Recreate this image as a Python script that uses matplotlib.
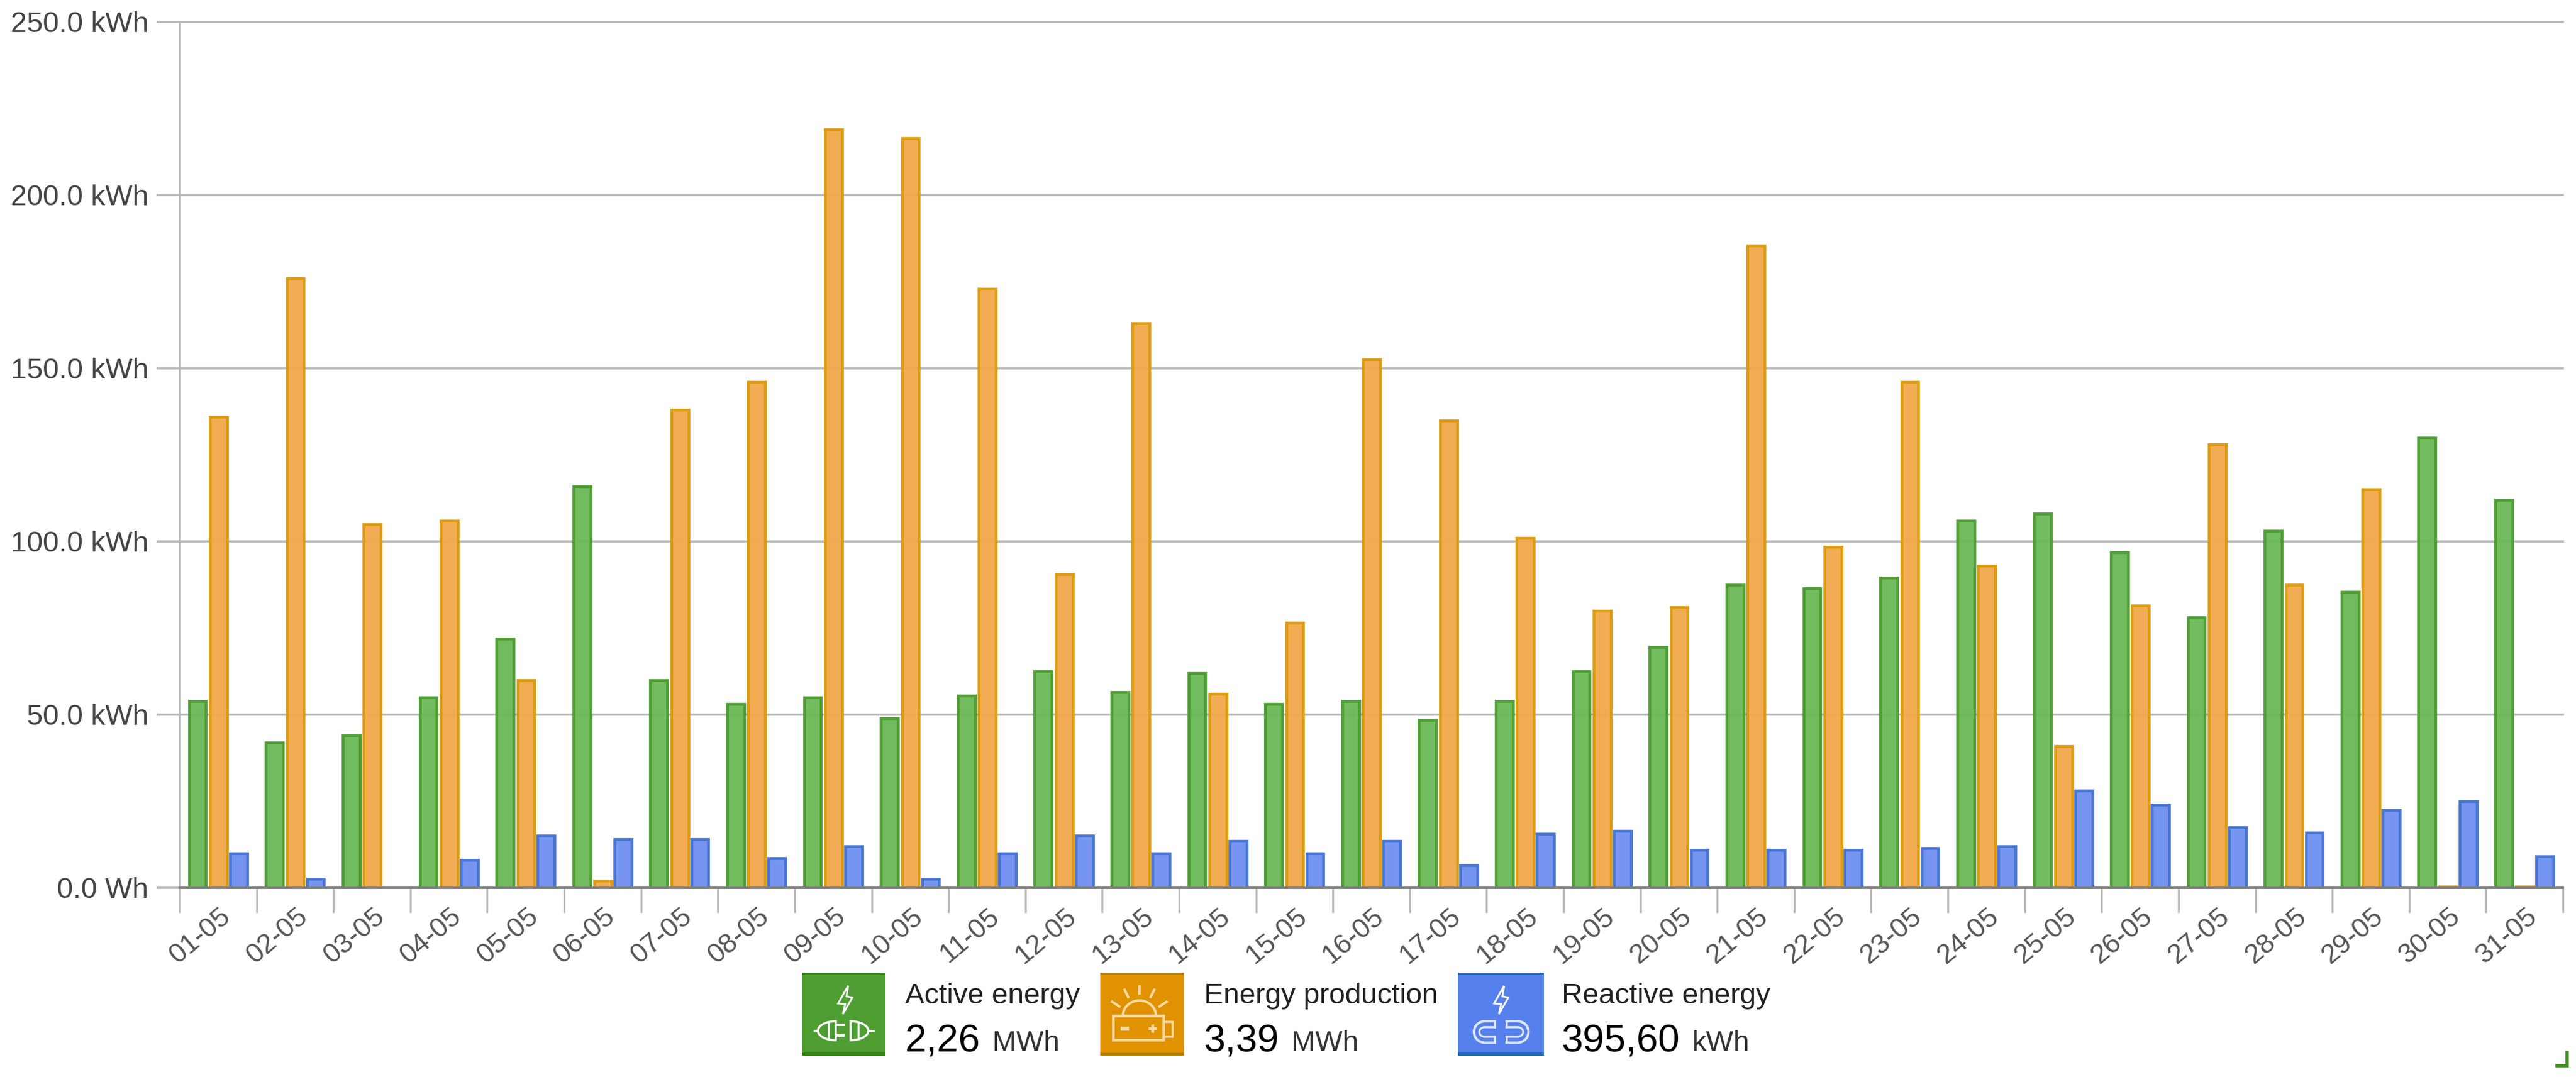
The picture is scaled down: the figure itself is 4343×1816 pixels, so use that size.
import matplotlib
matplotlib.use("Agg")
import matplotlib.pyplot as plt
import numpy as np
from matplotlib.patches import Rectangle, Polygon, Arc

plt.rcParams['font.family'] = ['Liberation Sans', 'DejaVu Sans']

days = [f"{d:02d}-05" for d in range(1, 32)]
active = [54,42,44,55,72,116,60,53,55,49,55.5,62.5,56.5,62,53,54,48.5,54,62.5,69.5,87.5,86.5,89.5,106,108,97,78,103,85.5,130,112]
production = [136,176,105,106,60,2,138,146,219,216.5,173,90.5,163,56,76.5,152.5,135,101,80,81,185.5,98.5,146,93,41,81.5,128,87.5,115,0.3,0.3]
reactive = [10,2.5,0,8,15,14,14,8.5,12,2.5,10,15,10,13.5,10,13.5,6.5,15.5,16.5,11,11,11,11.5,12,28,24,17.5,16,22.5,25,9]
yticks = [0,50,100,150,200,250]
ylabels = ["0.0 Wh","50.0 kWh","100.0 kWh","150.0 kWh","200.0 kWh","250.0 kWh"]
legend_names = ["Active energy","Energy production","Reactive energy"]
legend_vals = ["2,26","3,39","395,60"]
legend_units = ["MWh","MWh","kWh"]

W,H = 4343,1816
fig = plt.figure(figsize=(W/100,H/100),dpi=100,facecolor='white')
ax = fig.add_axes([303/W,(H-1497)/H,4018/W,1460/H])
ax.set_xlim(0,31); ax.set_ylim(0,250)
ax.set_axisbelow(True)
x = np.arange(31)
bw = 0.222
series = [(active,0.232,'#6AB856','#4B9B2F'),(production,0.505,'#F2A94B','#DB9A0D'),(reactive,0.767,'#6F8FF0','#4472D0')]
for vals,off,fc,ec in series:
    ax.bar(x+off,vals,width=bw,color=fc,edgecolor=ec,linewidth=3.4,alpha=0.95,zorder=3)
ax.set_yticks(yticks); ax.set_yticklabels(ylabels)
ax.set_xticks(np.arange(32)); ax.set_xticklabels([])
ax.grid(axis='y',color='#B8B8B8',lw=2.6,zorder=1)
for gl in ax.get_ygridlines(): gl.set_clip_on(False)
for s in ['top','right']: ax.spines[s].set_visible(False)
ax.spines['left'].set_color('#B4B4B4'); ax.spines['left'].set_linewidth(2.4)
ax.spines['bottom'].set_color('#808080'); ax.spines['bottom'].set_linewidth(2.8)
ax.spines['bottom'].set_zorder(4)
ax.tick_params(axis='y',length=28,width=2.6,color='#B8B8B8',labelsize=35,labelcolor='#444444',pad=10)
ax.tick_params(axis='x',length=30,width=2.4,color='#B8B8B8')
ax.get_yticklines()[0].set_color('#808080')
for i,d in enumerate(days):
    ax.annotate(d,xy=(i+0.5,0),xycoords=('data','axes fraction'),xytext=(1,-19),textcoords='offset points',
                ha='right',va='top',rotation=40,rotation_mode='anchor',fontsize=33.5,color='#555555')

ov = fig.add_axes([0,0,1,1]); ov.set_xlim(0,W); ov.set_ylim(H,0); ov.axis('off'); ov.patch.set_alpha(0)
boxes = [(1352,141,'#4E9E32','#2F8510'),(1855,141,'#E09200','#B98200'),(2458,145,'#5680EC','#1F68B8')]
txtx = [1526,2030,2633]
for k,(bx,bw_,fc,ec) in enumerate(boxes):
    ov.add_patch(Rectangle((bx,1640),bw_,140,fc=fc,ec='none'))
    ov.add_patch(Rectangle((bx,1640),bw_,4,fc=ec,ec='none'))
    ov.add_patch(Rectangle((bx,1775),bw_,5,fc=ec,ec='none'))
    ov.text(txtx[k],1679,legend_names[k],fontsize=35,color='#222222',va='center',ha='left')
    t = ov.text(txtx[k],1756,legend_vals[k],fontsize=47,color='black',va='center',ha='left')
    fig.canvas.draw()
    bb = t.get_window_extent()
    ov.text(bb.x1+20,1759,legend_units[k],fontsize=35,color='#333333',va='center',ha='left')

def bolt(cx,lw=2.2):
    ov.add_patch(Polygon([[cx+6,1662],[cx-11,1692],[cx+1,1693],[cx-3,1710],[cx+13,1682],[cx+3,1680]],closed=True,fc='none',ec='white',lw=lw))

W_ = 'white'
bolt(1424)
# plug
ov.add_patch(Arc((1409,1738),60,32,theta1=90,theta2=270,ec=W_,lw=2.6))
ov.plot([1409,1409],[1722,1754],color=W_,lw=2.6)
ov.plot([1397,1397],[1724,1752],color=W_,lw=2.4)
ov.plot([1373,1379],[1738,1738],color=W_,lw=2.4)
for yy in (1728,1746): ov.plot([1410,1422],[yy,yy],color=W_,lw=3)
ov.add_patch(Arc((1434,1738),60,32,theta1=-90,theta2=90,ec=W_,lw=2.6))
ov.plot([1434,1434],[1722,1754],color=W_,lw=2.6)
ov.plot([1447,1447],[1724,1752],color=W_,lw=2.4)
ov.plot([1464,1473],[1738,1738],color=W_,lw=2.4)
# battery with sun
C = '#FFD9A0'
ov.add_patch(Rectangle((1877,1713),85,41,fc='none',ec=C,lw=3.2))
ov.add_patch(Rectangle((1962,1723),15,25,fc='none',ec=C,lw=2.6))
ov.add_patch(Arc((1921,1713),56,52,theta1=180,theta2=360,ec=C,lw=3))
for (x0,y0,x1,y1) in [(1921,1663,1921,1675),(1896,1669,1902,1681),(1946,1669,1940,1681),(1875,1689,1887,1697),(1967,1689,1955,1697)]:
    ov.plot([x0,x1],[y0,y1],color=C,lw=3)
ov.plot([1889,1903],[1734,1734],color=C,lw=5,solid_capstyle='butt')
ov.plot([1936,1950],[1734,1734],color=C,lw=3.5,solid_capstyle='butt')
ov.plot([1943,1943],[1727,1741],color=C,lw=3.5,solid_capstyle='butt')
# magnets
bolt(2530)
M = '#DDE6FF'
for cxm,t1,t2,x0,x1 in [(2503,90,270,2503,2520),(2559,-90,90,2559,2540)]:
    ov.add_patch(Arc((cxm,1740),36,36,theta1=t1,theta2=t2,ec=M,lw=3))
    ov.add_patch(Arc((cxm,1740),18,16,theta1=t1,theta2=t2,ec=M,lw=2.4))
    for yy in (1722,1758,1732,1748):
        ov.plot([x0,x1],[yy,yy],color=M,lw=2.6)
    ov.plot([x1,x1],[1722,1732],color=M,lw=2.4)
    ov.plot([x1,x1],[1748,1758],color=M,lw=2.4)
ov.plot([4311,4328,4328],[1797,1797,1775],color='#3F8F1A',lw=4,solid_joinstyle='miter')

fig.savefig('out.png',dpi=100)
